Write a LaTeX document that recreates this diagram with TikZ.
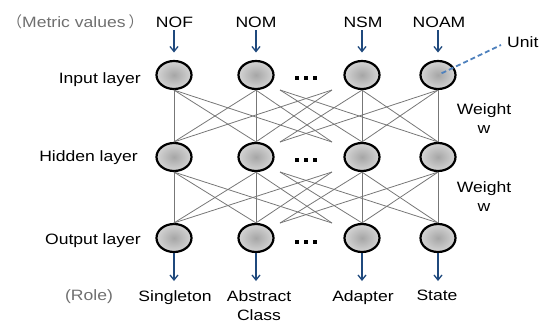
\documentclass[tikz,border=0pt]{standalone}
\usepackage{fontspec}
\setmainfont{Liberation Sans}[FakeStretch=1.17]
\newfontfamily\cjkfont{Noto Sans CJK SC}
\usetikzlibrary{shapes.geometric,arrows.meta,calc}
\definecolor{arrblue}{HTML}{1F497D}
\definecolor{unitblue}{HTML}{4F81BD}
\definecolor{linkgray}{HTML}{777777}
\definecolor{notegray}{HTML}{6F6F6F}
\definecolor{unitin}{HTML}{A6A6A6}
\definecolor{unitout}{HTML}{D4D4D4}
\begin{document}
\begin{tikzpicture}[x=1pt,y=-1pt,
  font=\fontsize{15}{19}\selectfont,
  unit/.style={ellipse, draw=black, line width=2.2pt, minimum width=35pt, minimum height=28pt, inner sep=0pt, inner color=unitin, outer color=unitout},
  link/.style={draw=linkgray, line width=0.8pt},
  inarr/.style={draw=arrblue, line width=1.3pt, -{Straight Barb[length=5pt,width=8pt]}},
  lbl/.style={inner sep=0pt, anchor=base},
  rolelbl/.style={inner sep=0pt, anchor=north, align=center},
  dotsq/.style={fill=black, inner sep=0pt, minimum size=4.5pt},
  unitline/.style={draw=unitblue, line width=1.8pt, dash pattern=on 5pt off 3pt},
]
\useasboundingbox (0,0) rectangle (539,325);

% units
\node[unit] (i1) at (174,75) {};
\node[unit] (i2) at (256,75) {};
\node[unit] (i3) at (362,75) {};
\node[unit] (i4) at (438,75) {};
\node[unit] (h1) at (174,157) {};
\node[unit] (h2) at (256,157) {};
\node[unit] (h3) at (362,157) {};
\node[unit] (h4) at (438,157) {};
\node[unit] (o1) at (174,238) {};
\node[unit] (o2) at (256,238) {};
\node[unit] (o3) at (362,238) {};
\node[unit] (o4) at (438,238) {};

% ellipsis dots
\node[dotsq] (di1) at (297,78) {};
\node[dotsq] (di2) at (306,78) {};
\node[dotsq] (di3) at (315,78) {};
\node[dotsq] (dh1) at (297,160) {};
\node[dotsq] (dh2) at (306,160) {};
\node[dotsq] (dh3) at (315,160) {};
\node[dotsq] (do1) at (297,242) {};
\node[dotsq] (do2) at (306,242) {};
\node[dotsq] (do3) at (315,242) {};

% free ends in the gap
\coordinate (iL) at (280,90);
\coordinate (iR) at (332,90);
\coordinate (hLt) at (280,142);
\coordinate (hRt) at (332,142);
\coordinate (hL) at (280,172);
\coordinate (hR) at (332,172);
\coordinate (oLt) at (280,223);
\coordinate (oRt) at (332,223);

% links input -> hidden
\foreach \u in {i1,i2} {
  \foreach \v in {h1,h2} {\draw[link] (\u.south) -- (\v.north);}
  \draw[link] (\u.south) -- (hRt);
}
\foreach \u in {i3,i4} {
  \foreach \v in {h3,h4} {\draw[link] (\u.south) -- (\v.north);}
  \draw[link] (\u.south) -- (hLt);
}
\draw[link] (iL) -- (h3.north);
\draw[link] (iL) -- (h4.north);
\draw[link] (iR) -- (h1.north);
\draw[link] (iR) -- (h2.north);

% links hidden -> output
\foreach \u in {h1,h2} {
  \foreach \v in {o1,o2} {\draw[link] (\u.south) -- (\v.north);}
  \draw[link] (\u.south) -- (oRt);
}
\foreach \u in {h3,h4} {
  \foreach \v in {o3,o4} {\draw[link] (\u.south) -- (\v.north);}
  \draw[link] (\u.south) -- (oLt);
}
\draw[link] (hL) -- (o3.north);
\draw[link] (hL) -- (o4.north);
\draw[link] (hR) -- (o1.north);
\draw[link] (hR) -- (o2.north);

% metric labels
\node[lbl, anchor=base west, text=notegray] (mv) at (7,27) {{\cjkfont （}Metric values\hspace{3pt}{\cjkfont ）}};
\node[lbl] (mNOF) at (174.5,27) {NOF};
\node[lbl] (mNOM) at (256,27) {NOM};
\node[lbl] (mNSM) at (363,27) {NSM};
\node[lbl] (mNOAM) at (439,27) {NOAM};

\foreach \m/\n in {mNOF/i1, mNOM/i2, mNSM/i3, mNOAM/i4}
  \draw[inarr, shorten <=3pt, shorten >=7.4pt] (\m.south -| \n) -- (\n.north);

% layer labels
\node[lbl, anchor=base east] (lin) at (141,83) {Input layer};
\node[lbl, anchor=base east] (lhid) at (138,161) {Hidden layer};
\node[lbl, anchor=base east] (lout) at (141,244) {Output layer};

% weight labels
\node[rolelbl] (w1) at (484,103) {Weight\\w};
\node[rolelbl] (w2) at (484,181) {Weight\\w};

% role labels
\node[lbl, text=notegray] (role) at (89,300) {(Role)};
\node[rolelbl] (rSing) at (175,290) {Singleton};
\node[rolelbl] (rAbs) at (259,290) {Abstract\\Class};
\node[rolelbl] (rAda) at (363,290) {Adapter};
\node[rolelbl] (rSta) at (437,290) {State};

\foreach \n/\r in {o1/rSing, o2/rAbs, o3/rAda, o4/rSta}
  \draw[inarr, shorten >=9pt] (\n.south) -- (\n |- \r.north);

% unit callout
\node[lbl, anchor=base west] (unitlbl) at (507,47) {Unit};
\coordinate (uend) at (501,45);
\draw[unitline, shorten <=4pt] (i4.center) -- (uend);
\end{tikzpicture}
\end{document}
